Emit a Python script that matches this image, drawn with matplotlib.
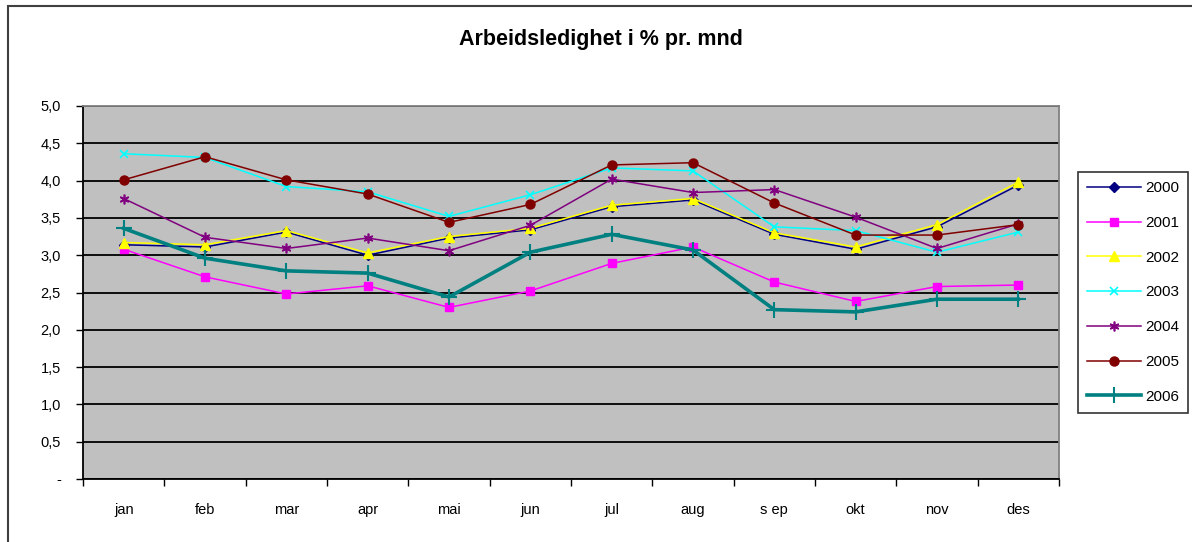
import matplotlib
matplotlib.use("Agg")
import matplotlib.pyplot as plt
from matplotlib.patches import Rectangle
from matplotlib.ticker import FixedLocator, FuncFormatter
import numpy as np

plt.rcParams['font.family'] = ['Liberation Sans', 'DejaVu Sans']

months = ["jan", "feb", "mar", "apr", "mai", "jun", "jul", "aug", "s ep", "okt", "nov", "des"]
years = ["2000", "2001", "2002", "2003", "2004", "2005", "2006"]

y2000 = [3.14, 3.11, 3.31, 3.00, 3.23, 3.34, 3.65, 3.74, 3.28, 3.08, 3.38, 3.94]
y2001 = [3.08, 2.71, 2.48, 2.59, 2.30, 2.52, 2.89, 3.11, 2.64, 2.38, 2.58, 2.60]
y2002 = [3.17, 3.14, 3.33, 3.03, 3.25, 3.36, 3.67, 3.76, 3.30, 3.11, 3.41, 3.98]
y2003 = [4.36, 4.31, 3.92, 3.85, 3.52, 3.81, 4.17, 4.13, 3.38, 3.33, 3.04, 3.31]
y2004 = [3.76, 3.24, 3.09, 3.23, 3.06, 3.40, 4.02, 3.84, 3.88, 3.51, 3.09, 3.42]
y2005 = [4.01, 4.32, 4.01, 3.82, 3.44, 3.68, 4.21, 4.24, 3.70, 3.27, 3.27, 3.41]
y2006 = [3.36, 2.96, 2.79, 2.76, 2.44, 3.04, 3.28, 3.07, 2.27, 2.24, 2.41, 2.41]

series = [y2000, y2001, y2002, y2003, y2004, y2005, y2006]
colors = ["#000080", "#FF00FF", "#FFFF00", "#00FFFF", "#800080", "#800000", "#008080"]
markers = ["D", "s", "^", "x", (6, 2, 0), "o", "+"]
msizes = [5, 6, 7, 6, 7, 6.5, 11]
lws = [1.1, 1.1, 1.1, 1.1, 1.1, 1.1, 2.6]
mews = [1, 1, 1, 1.2, 1.2, 1, 1.5]

fig = plt.figure(figsize=(11.92, 5.42), dpi=100)
ax = fig.add_axes([83/1192, 1 - 479/542, (1059 - 83)/1192, (479 - 106)/542])
ax.set_facecolor("#C0C0C0")

x = np.arange(len(months))
handles = []
for name, vals, c, m, ms, lw, mew in zip(years, series, colors, markers, msizes, lws, mews):
    h, = ax.plot(x, vals, color=c, marker=m, markersize=ms, linewidth=lw,
                 markeredgewidth=mew, markerfacecolor=c, markeredgecolor=c, label=name,
                 clip_on=False, zorder=3)
    handles.append(h)

ax.set_xlim(-0.5, len(months) - 0.5)
ax.set_ylim(0, 5.0)

yt = np.arange(0, 5.01, 0.5)
ax.yaxis.set_major_locator(FixedLocator(yt))
ax.yaxis.set_major_formatter(FuncFormatter(lambda v, p: "-" if abs(v) < 1e-9 else f"{v:.1f}".replace(".", ",")))
ax.grid(axis="y", color="black", linewidth=1.3, zorder=1)
ax.set_axisbelow(True)

ax.xaxis.set_major_locator(FixedLocator(np.arange(-0.5, len(months), 1.0)))
ax.xaxis.set_major_formatter(FuncFormatter(lambda v, p: ""))
ax.xaxis.set_minor_locator(FixedLocator(x))
ax.set_xticklabels(months, minor=True)
ax.tick_params(axis="x", which="minor", length=0, pad=17, labelsize=10.5)
ax.tick_params(axis="x", which="major", length=5, width=1, direction="out", color="black")
ax.tick_params(axis="y", length=5, width=1, direction="out", pad=11, labelsize=10.5)

for side in ["left", "bottom"]:
    ax.spines[side].set_color("black")
    ax.spines[side].set_linewidth(1.3)
for side in ["top", "right"]:
    ax.spines[side].set_color("#808080")
    ax.spines[side].set_linewidth(1.3)

fig.text(601/1192, 1 - 39/542, "Arbeidsledighet i % pr. mnd", ha="center", va="center",
         fontsize=15.5, fontweight="bold")

leg = fig.legend(handles=handles, loc="upper left", bbox_to_anchor=(1078/1192, 1 - 172/542),
                 fontsize=11, frameon=True, fancybox=False, edgecolor="black",
                 labelspacing=1.36, handlelength=3.5, handletextpad=0.3, borderpad=0.6,
                 borderaxespad=0)
leg.get_frame().set_linewidth(1.2)

fig.patches.append(Rectangle((8/1192, -0.05), 1.2, 1 - 6/542 + 0.05, transform=fig.transFigure,
                             fill=False, edgecolor="#404040", linewidth=1.5))

fig.savefig("out.png", dpi=100)
